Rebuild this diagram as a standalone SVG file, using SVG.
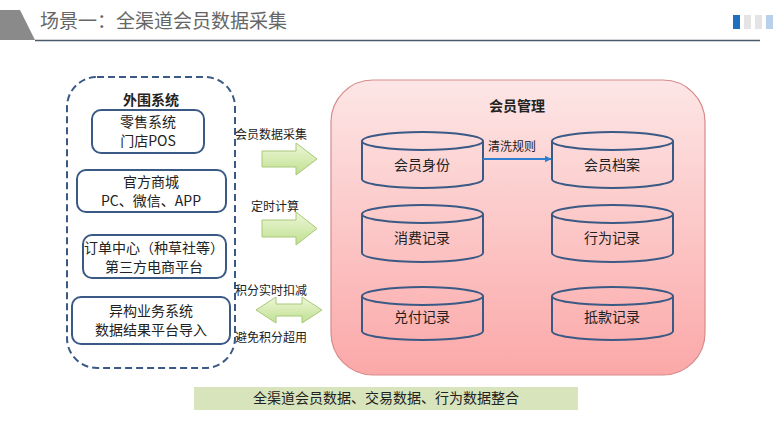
<svg xmlns="http://www.w3.org/2000/svg" width="780" height="439" viewBox="0 0 780 439">
<style>
text{font-family:"Microsoft YaHei","Noto Sans CJK SC",sans-serif;fill:#222;text-anchor:middle}
.box{fill:#fff;stroke:#3a5a85;stroke-width:2}
.cyl{fill:none;stroke:#3a5a85;stroke-width:2}
.t{font-size:14px}
.lbl{font-size:12px}
.b{font-weight:bold}
.garr{fill:url(#gg);stroke:#a8c878;stroke-width:1}
</style>
<defs>
<linearGradient id="pk" x1="0" y1="0" x2="0" y2="1">
<stop offset="0" stop-color="#fde6e6"/>
<stop offset="1" stop-color="#fba8a8"/>
</linearGradient>
<linearGradient id="gg" x1="0" y1="0" x2="0" y2="1">
<stop offset="0" stop-color="#eef7d8"/>
<stop offset="1" stop-color="#bfe090"/>
</linearGradient>
<marker id="ba" viewBox="0 0 10 10" refX="9" refY="5" markerWidth="4" markerHeight="4" orient="auto">
<path d="M0,0 L10,5 L0,10 z" fill="#2f7fd0"/>
</marker>
</defs>
<rect width="780" height="439" fill="#fff"/>
<g id="header">
<polygon points="0,10 20,10 35,40 0,40" fill="#8a8a8a"/>
<line x1="35" y1="40.5" x2="760" y2="40.5" stroke="#4a5a6a" stroke-width="1.5"/>
<text x="40" y="28" style="font-size:19px;fill:#666;text-anchor:start">场景一：全渠道会员数据采集</text>
<rect x="733" y="15" width="7" height="14" fill="#1f6fc0"/>
<rect x="744" y="15" width="7" height="14" fill="#e4e4e4"/>
<rect x="755" y="15" width="7" height="14" fill="#e4e4e4"/>
<rect x="766" y="15" width="7" height="14" fill="#b8d0ec"/>
</g>
<g id="external">
<rect x="67" y="77" width="168" height="291" rx="30" fill="none" stroke="#3a5a85" stroke-width="2" stroke-dasharray="7,4"/>
<text x="151" y="105" class="t b">外围系统</text>
</g>
<g id="pos">
<rect class="box" x="92" y="110" width="112" height="43" rx="9"/>
<text x="148" y="127" class="t">零售系统</text>
<text x="148" y="146" class="t">门店POS</text>
</g>
<g id="mall">
<rect class="box" x="77" y="170" width="149" height="42" rx="9"/>
<text x="151" y="187" class="t">官方商城</text>
<text x="151" y="206" class="t">PC、微信、APP</text>
</g>
<g id="order">
<rect class="box" x="83" y="235" width="143" height="43" rx="9"/>
<text x="154" y="253" class="t">订单中心（种草社等）</text>
<text x="154" y="272" class="t">第三方电商平台</text>
</g>
<g id="hetero">
<rect class="box" x="72" y="297" width="158" height="47" rx="9"/>
<text x="151" y="316" class="t">异构业务系统</text>
<text x="151" y="335" class="t">数据结果平台导入</text>
</g>
<g id="member">
<rect x="331" y="80" width="374" height="295" rx="42" fill="url(#pk)" stroke="#d88a8a" stroke-width="1.2"/>
<text x="517" y="111" class="t b">会员管理</text>
</g>
<g id="identity">
<path class="cyl" d="M362,141 L362,179 A60.5,9 0 0 0 483,179 L483,141 A60.5,9 0 0 0 362,141 A60.5,9 0 0 0 483,141"/>
<text x="422" y="170" class="t">会员身份</text>
</g>
<g id="profile">
<path class="cyl" d="M552,141 L552,179 A60.5,9 0 0 0 673,179 L673,141 A60.5,9 0 0 0 552,141 A60.5,9 0 0 0 673,141"/>
<text x="612" y="170" class="t">会员档案</text>
</g>
<g id="consume">
<path class="cyl" d="M362,214 L362,253 A60.5,9 0 0 0 483,253 L483,214 A60.5,9 0 0 0 362,214 A60.5,9 0 0 0 483,214"/>
<text x="422" y="243" class="t">消费记录</text>
</g>
<g id="behavior">
<path class="cyl" d="M552,214 L552,253 A60.5,9 0 0 0 673,253 L673,214 A60.5,9 0 0 0 552,214 A60.5,9 0 0 0 673,214"/>
<text x="612" y="243" class="t">行为记录</text>
</g>
<g id="redeem">
<path class="cyl" d="M362,296 L362,331 A60.5,9 0 0 0 483,331 L483,296 A60.5,9 0 0 0 362,296 A60.5,9 0 0 0 483,296"/>
<text x="422" y="322" class="t">兑付记录</text>
</g>
<g id="deduct">
<path class="cyl" d="M552,296 L552,331 A60.5,9 0 0 0 673,331 L673,296 A60.5,9 0 0 0 552,296 A60.5,9 0 0 0 673,296"/>
<text x="612" y="322" class="t">抵款记录</text>
</g>
<g id="connectors">
<polygon class="garr" points="262,151 296,151 296,143 317,159 296,175 296,167 262,167"/>
<text x="271" y="139" class="lbl">会员数据采集</text>
<polygon class="garr" points="262,220 296,220 296,212 317,228.5 296,245 296,237 262,237"/>
<text x="275" y="211" class="lbl">定时计算</text>
<polygon class="garr" points="256,310 276,297 276,304 302,304 302,297 322,310 302,323 302,316 276,316 276,323"/>
<text x="271" y="295" class="lbl">积分实时扣减</text>
<text x="271" y="342" class="lbl">避免积分超用</text>
<line x1="483" y1="159" x2="551" y2="159" stroke="#2f7fd0" stroke-width="1.8" marker-end="url(#ba)"/>
<text x="512" y="151" class="lbl">清洗规则</text>
</g>
<g id="footer">
<rect x="194" y="387" width="384" height="23" fill="#d8e4bc"/>
<text x="386" y="403" class="t">全渠道会员数据、交易数据、行为数据整合</text>
</g>
</svg>
